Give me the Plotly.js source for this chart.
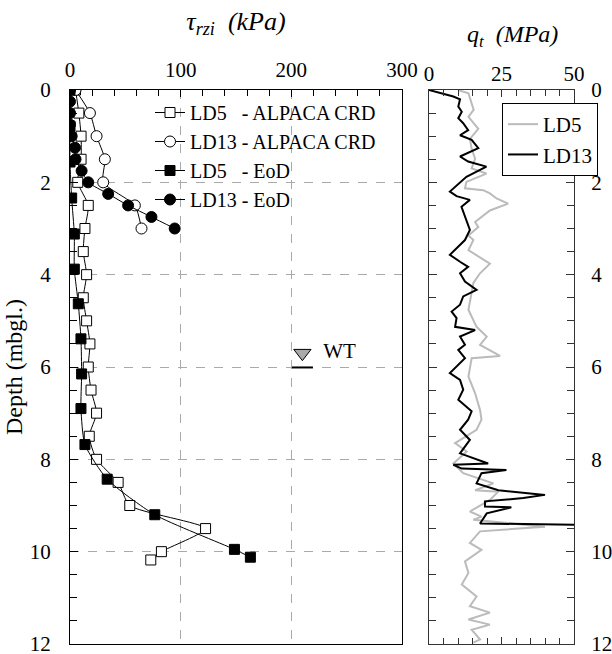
<!DOCTYPE html>
<html>
<head>
<meta charset="utf-8">
<script src="https://cdn.plot.ly/plotly-3.0.1.min.js"></script>
<style>html,body{margin:0;padding:0;background:#fff;}</style>
</head>
<body>
<div id="chart" style="width:612px;height:654px;"></div>
<script>
// ---- Left panel: tau_rzi (kPa) vs depth ----
const ld5CrdDepth = [0, 0.5, 1.0, 1.5, 2.0, 2.5, 3.0, 3.5, 4.0, 4.5, 5.0, 5.5, 6.0, 6.5, 7.0, 7.5, 8.0, 8.5, 9.0, 9.5, 10.0, 10.18];
const ld5CrdTau   = [5, 8, 10, 10, 7, 16.5, 13.5, 12, 15, 12, 15, 18, 16.5, 19, 24, 17.4, 24, 43.5, 54, 122.5, 82.6, 73];

const ld13CrdDepth = [0, 0.5, 1.0, 1.5, 2.0, 2.5, 3.0];
const ld13CrdTau   = [5, 18, 24, 31.5, 30, 58.6, 64.6];

const ld5EodDepth = [0, 0.78, 1.56, 2.34, 3.12, 3.88, 4.63, 5.39, 6.15, 6.9, 7.68, 8.43, 9.2, 9.95, 10.12];
const ld5EodTau   = [0, 0, 0, 1.5, 3.9, 3.9, 7.5, 9.9, 10.5, 9.9, 13.5, 33.6, 76.6, 148.6, 163];

const ld13EodDepth = [0, 0.25, 0.5, 0.75, 1.0, 1.25, 1.5, 1.75, 2.0, 2.25, 2.5, 2.75, 3.0];
const ld13EodTau   = [0, 0, 0, 0, 1.5, 4.5, 5, 10.5, 16.5, 34.5, 52.5, 73.6, 94.6];

// water table
const wtMarkX = [210], wtMarkDepth = [5.70], wtLabel = ['WT'];
const wtLineX = [200.5, 219.5], wtLineDepth = [6.01, 6.01];

// ---- Right panel: q_t (MPa) vs depth ----
const ld13QcDepth = [0, 0.14, 0.2, 0.36, 0.47, 0.61, 0.72, 0.87, 0.98, 1.08, 1.26, 1.44, 1.55, 1.66, 1.88, 2.2, 2.3, 2.38, 2.53, 2.74, 3.03, 3.25, 3.57, 3.72, 3.83, 3.97, 4.15, 4.33, 4.47, 4.65, 4.8, 4.94, 5.13, 5.2, 5.34, 5.52, 5.63, 5.81, 6.13, 6.28, 6.49, 6.71, 6.96, 7.14, 7.36, 7.58, 7.87, 8.09, 8.12, 8.2, 8.23, 8.3, 8.52, 8.67, 8.77, 8.84, 8.91, 9.02, 9.04, 9.17, 9.39, 9.42];
const ld13Qc      = [0, 8.4, 10.7, 10.1, 11.3, 10.1, 11.8, 13.5, 10.7, 14.7, 17, 10.7, 13.5, 19.8, 12.9, 7.2, 9.5, 14.1, 11.2, 12.4, 14.1, 12.4, 7.2, 10.7, 13.5, 10.7, 12.4, 16.4, 11.8, 10.7, 7.8, 9.5, 9, 15.9, 10.7, 12.4, 10.1, 12.4, 7.2, 10.7, 11.8, 10.1, 14.7, 13.5, 10.7, 14.1, 10.7, 20.4, 8.4, 11.3, 26.7, 18.1, 16.4, 23.9, 40, 32.5, 19.3, 19.3, 28.4, 19.9, 17.6, 55];

const ld5QcDepth = [0, 0.07, 0.43, 0.58, 0.84, 1.06, 1.27, 1.49, 1.7, 1.81, 1.99, 2.13, 2.17, 2.24, 2.35, 2.46, 2.61, 2.86, 2.97, 3.15, 3.25, 3.47, 3.76, 3.97, 4.18, 4.55, 4.76, 5.13, 5.34, 5.52, 5.76, 5.81, 6.21, 6.57, 6.93, 7.14, 7.36, 7.65, 7.83, 8.09, 8.3, 8.52, 8.67, 8.7, 8.88, 9.13, 9.24, 9.31, 9.46, 9.56, 9.81, 9.96, 10.21, 10.46, 10.71, 10.97, 11.18, 11.32, 11.47, 11.58, 11.69, 11.9, 11.97];
const ld5Qc      = [10, 13.6, 15.4, 13.6, 17, 14.1, 14.7, 15.9, 14.7, 19.8, 12.9, 12.4, 18.7, 21, 23.3, 27.3, 21, 15.9, 17, 13.6, 15.3, 13.6, 21, 17.6, 15.3, 14.1, 13.6, 16.4, 19.9, 17.6, 24.5, 14.7, 13.6, 15.9, 17.6, 18.1, 16.4, 9, 13, 8.4, 11.8, 22.2, 15.9, 23.9, 21, 14.1, 18.1, 15.3, 40, 17.6, 14.1, 18.1, 12.4, 13.6, 11.3, 16.4, 14.1, 21, 13.6, 21, 14.7, 17.6, 15.3];

const serif = 'Liberation Serif';
const lineStyle = {color: '#000', width: 1, shape: 'spline', smoothing: 0.6};

const traces = [
  {x: ld5CrdTau, y: ld5CrdDepth, name: 'LD5\u00A0\u00A0\u00A0- ALPACA CRD', mode: 'lines+markers', xaxis: 'x', yaxis: 'y',
   line: lineStyle, marker: {symbol: 'square', size: 10, color: '#fff', line: {color: '#000', width: 1}}},
  {x: ld13CrdTau, y: ld13CrdDepth, name: 'LD13 - ALPACA CRD', mode: 'lines+markers', xaxis: 'x', yaxis: 'y',
   line: lineStyle, marker: {symbol: 'circle', size: 11, color: '#fff', line: {color: '#000', width: 1}}},
  {x: ld5EodTau, y: ld5EodDepth, name: 'LD5\u00A0\u00A0\u00A0- EoD', mode: 'lines+markers', xaxis: 'x', yaxis: 'y',
   line: lineStyle, marker: {symbol: 'square', size: 10, color: '#000', line: {color: '#000', width: 1}}},
  {x: ld13EodTau, y: ld13EodDepth, name: 'LD13 - EoD', mode: 'lines+markers', xaxis: 'x', yaxis: 'y',
   line: lineStyle, marker: {symbol: 'circle', size: 11, color: '#000', line: {color: '#000', width: 1}}},
  {x: wtLineX, y: wtLineDepth, mode: 'lines', xaxis: 'x', yaxis: 'y', showlegend: false, hoverinfo: 'skip',
   line: {color: '#000', width: 2}},
  {x: wtMarkX, y: wtMarkDepth, mode: 'markers+text', text: wtLabel, texttemplate: '\u00A0\u00A0%{text}', textposition: 'middle right',
   xaxis: 'x', yaxis: 'y', showlegend: false,
   textfont: {family: serif, size: 21, color: '#000'},
   marker: {symbol: 'triangle-down', size: 15, color: '#aaa', line: {color: '#000', width: 1}}},
  {x: ld5Qc, y: ld5QcDepth, name: 'LD5', mode: 'lines', xaxis: 'x2', yaxis: 'y2', legend: 'legend2',
   line: {color: '#bbb', width: 2}},
  {x: ld13Qc, y: ld13QcDepth, name: 'LD13', mode: 'lines', xaxis: 'x2', yaxis: 'y2', legend: 'legend2',
   line: {color: '#000', width: 2}}
];

const yDom = [1 - 644 / 654, 1 - 90 / 654];

const layout = {
  width: 612, height: 654,
  margin: {l: 0, r: 0, t: 0, b: 0},
  paper_bgcolor: '#fff', plot_bgcolor: '#fff',
  font: {family: serif, size: 21, color: '#000'},
  xaxis: {
    domain: [70 / 612, 402 / 612], range: [0, 300], side: 'top', anchor: 'y',
    tickvals: [0, 100, 200, 300], ticks: 'inside', ticklen: 7, tickcolor: '#000',
    minor: {dtick: 20, ticks: 'inside', ticklen: 6, tickcolor: '#000', showgrid: false},
    showline: true, linecolor: '#000', linewidth: 1, mirror: true,
    showgrid: true, gridcolor: '#aaa', griddash: 'dash', gridwidth: 1, zeroline: false,
    tickfont: {family: serif, size: 21, color: '#000'}, ticklabelstandoff: 4, ticklabeloverflow: 'allow',
    title: {text: '<i>τ<sub>rzi</sub>  (kPa)</i>', font: {family: serif, size: 26, color: '#000'}, standoff: 19}
  },
  yaxis: {
    domain: yDom, range: [12, 0], anchor: 'x',
    tickvals: [0, 2, 4, 6, 8, 10, 12], ticks: 'inside', ticklen: 8, tickcolor: '#000',
    minor: {dtick: 0.5, ticks: 'inside', ticklen: 7, tickcolor: '#000', showgrid: false},
    showline: true, linecolor: '#000', linewidth: 1, mirror: true,
    showgrid: true, gridcolor: '#aaa', griddash: 'dash', gridwidth: 1, zeroline: false,
    tickfont: {family: serif, size: 21, color: '#000'}, ticklabelstandoff: 14, ticklabeloverflow: 'allow',
    title: {text: 'Depth (mbgl.)', font: {family: serif, size: 24, color: '#000'}, standoff: 0}
  },
  xaxis2: {
    domain: [429 / 612, 574 / 612], range: [0, 50], side: 'top', anchor: 'y2',
    tickvals: [0, 25, 50], ticks: 'inside', ticklen: 7, tickcolor: '#333',
    minor: {dtick: 5, ticks: 'inside', ticklen: 6, tickcolor: '#333', showgrid: false},
    showline: true, linecolor: '#333', linewidth: 1, mirror: 'allticks',
    showgrid: false, zeroline: false,
    tickfont: {family: serif, size: 21, color: '#000'}, ticklabelstandoff: 0, ticklabeloverflow: 'allow'
  },
  yaxis2: {
    domain: yDom, range: [12, 0], anchor: 'x2', side: 'right',
    tickvals: [0, 2, 4, 6, 8, 10, 12], ticks: 'inside', ticklen: 8, tickcolor: '#333',
    minor: {dtick: 0.5, ticks: 'inside', ticklen: 7, tickcolor: '#333', showgrid: false},
    showline: true, linecolor: '#333', linewidth: 1, mirror: 'allticks',
    showgrid: false, zeroline: false,
    tickfont: {family: serif, size: 21, color: '#000'}, ticklabelstandoff: 12, ticklabeloverflow: 'allow'
  },
  annotations: [
    {text: '<i>q<sub>t</sub>  (MPa)</i>', xref: 'paper', yref: 'paper', x: 512 / 612, y: 1 - 36 / 654,
     xanchor: 'center', yanchor: 'middle', showarrow: false, font: {family: serif, size: 24, color: '#000'}}
  ],
  legend: {
    x: 150 / 612, y: 1 - 93 / 654, xanchor: 'left', yanchor: 'top',
    bgcolor: 'rgba(0,0,0,0)', borderwidth: 0,
    font: {family: serif, size: 20, color: '#000'}, tracegroupgap: 0
  },
  legend2: {
    x: 502 / 612, y: 1 - 103 / 654, xanchor: 'left', yanchor: 'top',
    bgcolor: '#fff', bordercolor: '#000', borderwidth: 1,
    font: {family: serif, size: 21, color: '#000'}
  },
  showlegend: true
};

Plotly.newPlot('chart', traces, layout, {displayModeBar: false, staticPlot: true});
</script>
</body>
</html>
